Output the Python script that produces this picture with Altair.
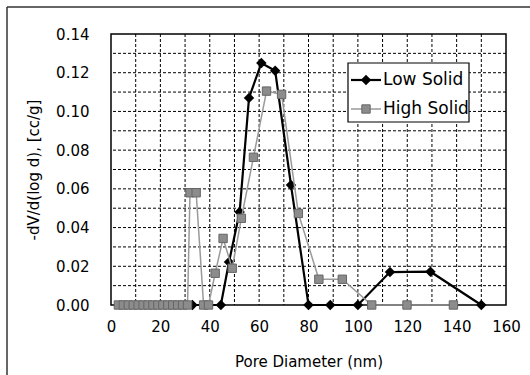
import altair as alt
import pandas as pd

# Low Solid series
low_x = [33, 44.5, 47.8, 52.1, 55.9, 60.9, 66.5, 72.9, 80, 88.8, 100, 113, 129.4, 150]
low_y = [0.0, 0.0, 0.0222, 0.048, 0.107, 0.125, 0.121, 0.062, 0.0, 0.0, 0.0, 0.017, 0.0172, 0.0]

# High Solid series
high_x = [3, 5, 7, 9, 11, 13, 15, 17, 19, 21, 23, 25, 27, 29, 31,
          32, 34.5, 37.5, 39.5, 42.2, 45.4, 49.1, 52.8, 57.7, 63, 69.1,
          75.9, 84.2, 93.7, 105.6, 119.9, 138.7]
high_y = [0.0] * 15 + [0.058, 0.058, 0.0, 0.0, 0.0164, 0.0344, 0.019, 0.0448, 0.0763,
                       0.1105, 0.1088, 0.0473, 0.0133, 0.0133, 0.0, 0.0, 0.0]

x_ticks = list(range(0, 161, 20))
y_ticks = [round(i * 0.02, 2) for i in range(0, 8)]
x_grid = list(range(10, 160, 10))
y_grid = [round(i * 0.01, 2) for i in range(1, 14)]

FONT = "DejaVu Sans"

low_df = pd.DataFrame({"d": low_x, "v": low_y})
high_df = pd.DataFrame({"d": high_x, "v": high_y})
gx_df = pd.DataFrame({"d": x_grid})
gy_df = pd.DataFrame({"v": y_grid})
dummy = pd.DataFrame({"a": [0]})

x_enc = alt.X("d:Q", scale=alt.Scale(domain=[0, 160], nice=False, zero=False),
              axis=alt.Axis(values=x_ticks, tickCount=len(x_ticks), title="Pore Diameter  (nm)",
                            format="d", grid=False, ticks=False, domain=False,
                            labelOverlap=False, labelFlush=False,
                            labelFont=FONT, labelFontSize=15, labelColor="black",
                            labelPadding=14, titleFont=FONT, titleFontSize=15,
                            titleFontWeight="normal", titleColor="black", titlePadding=20))
y_enc = alt.Y("v:Q", scale=alt.Scale(domain=[0, 0.14], nice=False),
              axis=alt.Axis(values=y_ticks, tickCount=len(y_ticks), title="-dV/d(log d), [cc/g]",
                            format=".2f", grid=False, ticks=False, domain=False,
                            labelOverlap=False, labelFlush=False,
                            labelFont=FONT, labelFontSize=15, labelColor="black",
                            labelPadding=22, titleFont=FONT, titleFontSize=15,
                            titleFontWeight="normal", titleColor="black", titlePadding=14))

grid_x = alt.Chart(gx_df).mark_rule(color="black", strokeDash=[3, 2], strokeWidth=1).encode(x=x_enc)
grid_y = alt.Chart(gy_df).mark_rule(color="black", strokeDash=[3, 2], strokeWidth=1).encode(y=y_enc)

low_line = alt.Chart(low_df).mark_line(color="black", strokeWidth=2.2).encode(x=x_enc, y=y_enc)
low_pts = alt.Chart(low_df).mark_point(shape="diamond", filled=True, color="black",
                                       size=110, opacity=1).encode(x="d:Q", y="v:Q")
high_line = alt.Chart(high_df).mark_line(color="#9a9a9a", strokeWidth=1.5).encode(x="d:Q", y="v:Q")
high_pts = alt.Chart(high_df).mark_point(shape="square", filled=True, fill="#8c8c8c",
                                         stroke="#666666", strokeWidth=1, size=70,
                                         opacity=1).encode(x="d:Q", y="v:Q")

# legend box (decoration)
leg_box = alt.Chart(dummy).mark_rect(fill="white", stroke="black", strokeWidth=1.2).encode(
    x=alt.value(237), x2=alt.value(358), y=alt.value(29), y2=alt.value(88))
leg_l1 = alt.Chart(dummy).mark_rule(color="black", strokeWidth=2.2).encode(
    x=alt.value(240), x2=alt.value(270), y=alt.value(46))
leg_p1 = alt.Chart(dummy).mark_point(shape="diamond", filled=True, color="black", size=110,
                                     opacity=1).encode(x=alt.value(255), y=alt.value(46))
leg_t1 = alt.Chart(dummy).mark_text(text="Low Solid", align="left", baseline="middle",
                                    font=FONT, fontSize=17, color="black").encode(
    x=alt.value(272), y=alt.value(46))
leg_l2 = alt.Chart(dummy).mark_rule(color="#9a9a9a", strokeWidth=1.5).encode(
    x=alt.value(240), x2=alt.value(270), y=alt.value(75))
leg_p2 = alt.Chart(dummy).mark_point(shape="square", filled=True, fill="#8c8c8c", stroke="#666666",
                                     strokeWidth=1, size=70, opacity=1).encode(
    x=alt.value(255), y=alt.value(75))
leg_t2 = alt.Chart(dummy).mark_text(text="High Solid", align="left", baseline="middle",
                                    font=FONT, fontSize=17, color="black").encode(
    x=alt.value(272), y=alt.value(75))

# outer chart-area border (left and top edges)
border_left = alt.Chart(dummy).mark_rule(color="#333333", strokeWidth=1.5).encode(
    x=alt.value(-104), y=alt.value(-27), y2=alt.value(400))
border_top = alt.Chart(dummy).mark_rule(color="#333333", strokeWidth=1.5).encode(
    x=alt.value(-104), x2=alt.value(500), y=alt.value(-27))

chart = alt.layer(
    grid_x, grid_y,
    low_line, low_pts, high_line, high_pts,
    leg_box, leg_l1, leg_p1, leg_t1, leg_l2, leg_p2, leg_t2,
    border_left, border_top
).properties(
    width=395, height=271,
    autosize=alt.AutoSizeParams(type="none"),
    padding={"left": 111, "top": 34, "right": 24, "bottom": 70},
    background="white"
).configure_view(stroke="black", strokeWidth=1.5).configure_axis(labelOverlap=False)

chart.save("out.html", embed_options={"renderer": "svg", "actions": False})
